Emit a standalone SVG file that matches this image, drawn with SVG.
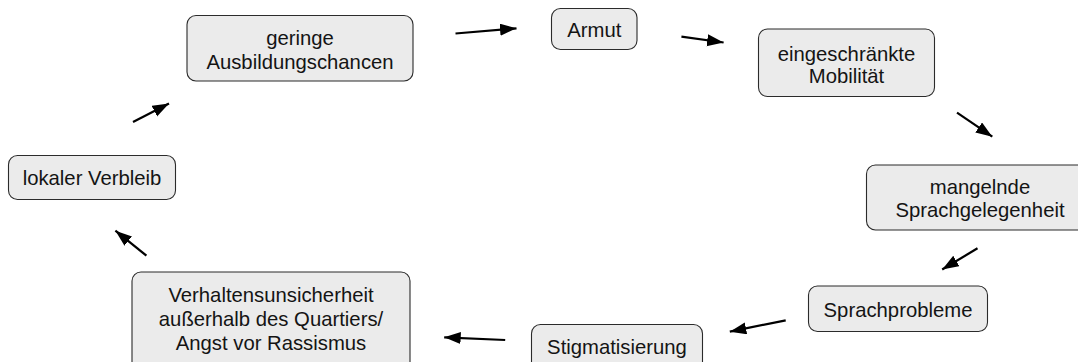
<svg xmlns="http://www.w3.org/2000/svg" width="1078" height="362" viewBox="0 0 1078 362">
<style>
.box{fill:#ebebeb;stroke:#2b2b2b;stroke-width:1.1}
.t{font-family:"Liberation Sans",Arial,sans-serif;font-size:20.3px;fill:#141414;text-anchor:middle}
.c{stroke:#000;stroke-width:2.2;fill:none;marker-end:url(#ah)}
</style>
<defs>
<marker id="ah" markerUnits="userSpaceOnUse" markerWidth="18" markerHeight="13" refX="16.5" refY="6" orient="auto">
<path d="M0,0 L16.5,6 L0,12 Z" fill="#000"/>
</marker>
</defs>
<g id="connectors">
<line class="c" x1="133" y1="122" x2="169" y2="103.5"/>
<line class="c" x1="455.5" y1="33.5" x2="516.5" y2="28.3"/>
<line class="c" x1="681.4" y1="36.7" x2="723.6" y2="42.5"/>
<line class="c" x1="957" y1="112.7" x2="992.3" y2="136.7"/>
<line class="c" x1="977.5" y1="248.3" x2="942.2" y2="269.5"/>
<line class="c" x1="785.7" y1="320.3" x2="729.8" y2="331.7"/>
<line class="c" x1="505.2" y1="340" x2="444.2" y2="337.3"/>
<line class="c" x1="146.4" y1="255.7" x2="115.4" y2="230.7"/>
</g>
<g id="n-ausbildung">
<rect class="box" x="187" y="15.5" width="226" height="65.5" rx="9"/>
<text class="t" x="300" y="45">geringe</text>
<text class="t" x="300" y="68.5">Ausbildungschancen</text>
</g>
<g id="n-armut">
<rect class="box" x="551.5" y="8.5" width="85.5" height="41" rx="9"/>
<text class="t" x="594.3" y="37.3">Armut</text>
</g>
<g id="n-mobilitaet">
<rect class="box" x="758.5" y="29" width="176" height="67.5" rx="9"/>
<text class="t" x="846.5" y="60.5">eingeschränkte</text>
<text class="t" x="846.5" y="83">Mobilität</text>
</g>
<g id="n-sprachgelegenheit">
<rect class="box" x="866.5" y="165" width="226" height="65" rx="9"/>
<text class="t" x="980" y="194">mangelnde</text>
<text class="t" x="980" y="217">Sprachgelegenheit</text>
</g>
<g id="n-sprachprobleme">
<rect class="box" x="808.5" y="286" width="179" height="45.5" rx="9"/>
<text class="t" x="898" y="316.7">Sprachprobleme</text>
</g>
<g id="n-stigmatisierung">
<rect class="box" x="531.5" y="324.5" width="171" height="50" rx="9"/>
<text class="t" x="617" y="354">Stigmatisierung</text>
</g>
<g id="n-verhalten">
<rect class="box" x="132" y="272" width="278" height="110" rx="9"/>
<text class="t" x="271" y="302.3">Verhaltensunsicherheit</text>
<text class="t" x="271" y="326">außerhalb des Quartiers/</text>
<text class="t" x="271" y="349.5">Angst vor Rassismus</text>
</g>
<g id="n-verbleib">
<rect class="box" x="8.5" y="155.5" width="167" height="44" rx="9"/>
<text class="t" x="92" y="185">lokaler Verbleib</text>
</g>
</svg>
